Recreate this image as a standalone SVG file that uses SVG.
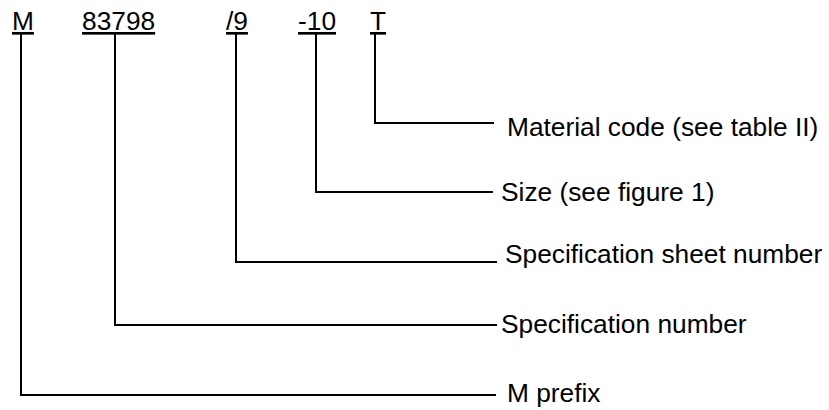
<svg xmlns="http://www.w3.org/2000/svg" width="829" height="410" viewBox="0 0 829 410">
<style>
text{font-family:"Liberation Sans",Arial,sans-serif;font-size:26.3px;fill:#000}
.u{text-decoration:underline}
.c{fill:none;stroke:#000;stroke-width:2}
</style>
<rect width="829" height="410" fill="#fff"/>
<g id="code">
<g id="part-m"><text class="u" x="12" y="30">M</text></g>
<g id="part-spec"><text class="u" x="82" y="30">83798</text></g>
<g id="part-sheet"><text class="u" x="226" y="30">/9</text></g>
<g id="part-size"><text class="u" x="298" y="30">-10</text></g>
<g id="part-material"><text class="u" x="370" y="30">T</text></g>
</g>
<g id="connectors">
<path class="c" d="M375 32V123H494"/>
<path class="c" d="M316 32V192H493"/>
<path class="c" d="M236 32V262H497"/>
<path class="c" d="M115 32V325H497"/>
<path class="c" d="M21 32V395H496"/>
</g>
<g id="label-material"><text x="507" y="136">Material code (see table II)</text></g>
<g id="label-size"><text x="501" y="201">Size (see figure 1)</text></g>
<g id="label-sheet"><text x="505" y="263">Specification sheet number</text></g>
<g id="label-spec"><text x="501" y="333">Specification number</text></g>
<g id="label-prefix"><text x="507" y="402">M prefix</text></g>
</svg>
